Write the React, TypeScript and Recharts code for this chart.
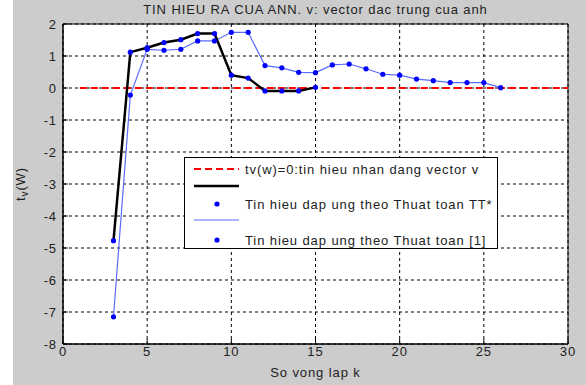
import { ComposedChart, Line, XAxis, YAxis, CartesianGrid, ReferenceArea, Legend } from 'recharts'

// iteration index k and the responses
const kTT = [3, 4, 5, 6, 7, 8, 9, 10, 11, 12, 13, 14, 15]
const ttStar = [-4.77, 1.12, 1.26, 1.42, 1.51, 1.7, 1.7, 0.4, 0.31, -0.09, -0.09, -0.09, 0.02]

const kRef = [3, 4, 5, 6, 7, 8, 9, 10, 11, 12, 13, 14, 15, 16, 17, 18, 19, 20, 21, 22, 23, 24, 25, 26]
const ref1 = [
  -7.15, -0.22, 1.21, 1.18, 1.21, 1.47, 1.47, 1.74, 1.74, 0.7, 0.63, 0.49, 0.48, 0.72, 0.75, 0.6,
  0.43, 0.4, 0.28, 0.23, 0.17, 0.17, 0.17, 0.01,
]

const kZero = [1, 30]
const zeroLevel = [0, 0]

const xTicks = [0, 5, 10, 15, 20, 25, 30]
const yTicks = [-8, -7, -6, -5, -4, -3, -2, -1, 0, 1, 2]

const legendLabels = [
  'tv(w)=0:tin hieu nhan dang vector v',
  '',
  'Tin hieu dap ung theo Thuat toan TT*',
  '',
  'Tin hieu dap ung theo Thuat toan [1]',
]

const FONT = '"Liberation Sans", Arial, sans-serif'
const FS = 13
const LS = 0.9
const INK = '#222'
const BLUE_DOT = '#0000ff'
const BLUE_LINE = '#5a6cff'

const ttData = kTT.map((k, i) => ({ k, v: ttStar[i] }))
const refData = kRef.map((k, i) => ({ k, v: ref1[i] }))
const zeroData = kZero.map((k, i) => ({ k, v: zeroLevel[i] }))

const tickStyle = { fontSize: FS, fontFamily: FONT, fill: INK, letterSpacing: LS }

const Dot = (props: any) => {
  const { cx, cy } = props
  if (cx == null || cy == null) return null
  return <circle cx={cx} cy={cy} r={2.6} fill={BLUE_DOT} stroke="none" />
}

const YLabel = (props: any) => {
  const vb = props.viewBox || { x: 0, y: 0, width: 0, height: 0 }
  const x = vb.x + 25
  const y = vb.y + vb.height / 2
  return (
    <text
      x={x}
      y={y}
      transform={`rotate(-90, ${x}, ${y})`}
      textAnchor="middle"
      fontSize={FS}
      fontFamily={FONT}
      letterSpacing={LS}
      fill={INK}
    >
      t<tspan fontSize={10} dy={3}>v</tspan>
      <tspan dy={-3}>(W)</tspan>
    </text>
  )
}

const XLabel = (props: any) => {
  const vb = props.viewBox || { x: 0, y: 0, width: 0, height: 0 }
  return (
    <text
      x={vb.x + vb.width / 2}
      y={vb.y + 33}
      textAnchor="middle"
      fontSize={FS}
      fontFamily={FONT}
      letterSpacing={LS}
      fill={INK}
    >
      So vong lap k
    </text>
  )
}

const LegendBox = () => {
  const rowH = [11, 28, 46, 62, 82]
  return (
    <div
      style={{
        width: 314,
        height: 92,
        background: '#fff',
        border: '1px solid #000',
        boxSizing: 'border-box',
        position: 'relative',
      }}
    >
      <svg width={312} height={90} style={{ position: 'absolute', left: 0, top: 0 }}>
        <line x1={9} x2={54} y1={rowH[0]} y2={rowH[0]} stroke="#ff0000" strokeWidth={2} strokeDasharray="7 4" />
        <line x1={9} x2={54} y1={rowH[1]} y2={rowH[1]} stroke="#000" strokeWidth={2.5} />
        <circle cx={32} cy={rowH[2]} r={2.6} fill={BLUE_DOT} />
        <line x1={9} x2={54} y1={rowH[3]} y2={rowH[3]} stroke={BLUE_LINE} strokeWidth={1.2} />
        <circle cx={32} cy={rowH[4]} r={2.6} fill={BLUE_DOT} />
        {legendLabels.map((t, i) =>
          t ? (
            <text key={i} x={60} y={rowH[i] + 5} fontSize={FS} fontFamily={FONT} letterSpacing={LS} fill={INK}>
              {t}
            </text>
          ) : null
        )}
      </svg>
    </div>
  )
}

export default function App() {
  return (
    <div style={{ position: 'absolute', left: 0, top: 0, width: 586, height: 385, background: '#fff' }}>
      <div style={{ position: 'absolute', left: 13, top: 0, width: 573, height: 385, background: '#cccccc' }} />
      <div
        style={{
          position: 'absolute',
          left: 63,
          width: 505,
          top: 2,
          textAlign: 'center',
          fontFamily: FONT,
          fontSize: FS,
          letterSpacing: LS,
          color: INK,
        }}
      >
        TIN HIEU RA CUA ANN. v: vector dac trung cua anh
      </div>
      <div style={{ position: 'absolute', left: 0, top: 0 }}>
        <ComposedChart width={586} height={385} margin={{ top: 24, right: 18, bottom: 0, left: 0 }}>
          <CartesianGrid
            stroke="#000"
            strokeDasharray="3 3"
            fill="#fff"
            fillOpacity={1}
            horizontalValues={yTicks}
            verticalValues={xTicks}
          />
          <XAxis
            type="number"
            dataKey="k"
            domain={[0, 30]}
            ticks={xTicks}
            allowDuplicatedCategory={false}
            height={41}
            axisLine={{ stroke: '#000' }}
            tickLine={{ stroke: '#000' }}
            tickSize={-5}
            tickMargin={8}
            tick={tickStyle}
            label={{ content: XLabel }}
          />
          <YAxis
            type="number"
            domain={[-8, 2]}
            ticks={yTicks}
            width={63}
            axisLine={{ stroke: '#000' }}
            tickLine={{ stroke: '#000' }}
            tickSize={-5}
            tickMargin={11}
            tick={tickStyle}
            label={{ content: YLabel }}
          />
          <ReferenceArea x1={0} x2={30} y1={-8} y2={2} fill="none" stroke="#000" strokeWidth={1} ifOverflow="visible" />
          <Line
            data={zeroData}
            dataKey="v"
            name="zero"
            stroke="#ff0000"
            strokeWidth={2}
            strokeDasharray="7 4"
            dot={false}
            isAnimationActive={false}
            legendType="none"
          />
          <Line
            data={refData}
            dataKey="v"
            name="ref1"
            stroke={BLUE_LINE}
            strokeWidth={1.2}
            dot={<Dot />}
            activeDot={false}
            isAnimationActive={false}
          />
          <Line
            data={ttData}
            dataKey="v"
            name="tt"
            stroke="#000"
            strokeWidth={2.5}
            dot={<Dot />}
            activeDot={false}
            isAnimationActive={false}
          />
          <Legend
            layout="horizontal"
            verticalAlign="middle"
            align="center"
            content={() => <LegendBox />}
            wrapperStyle={{ position: 'absolute', left: 184, top: 157, width: 314, height: 92 }}
          />
        </ComposedChart>
      </div>
    </div>
  )
}
